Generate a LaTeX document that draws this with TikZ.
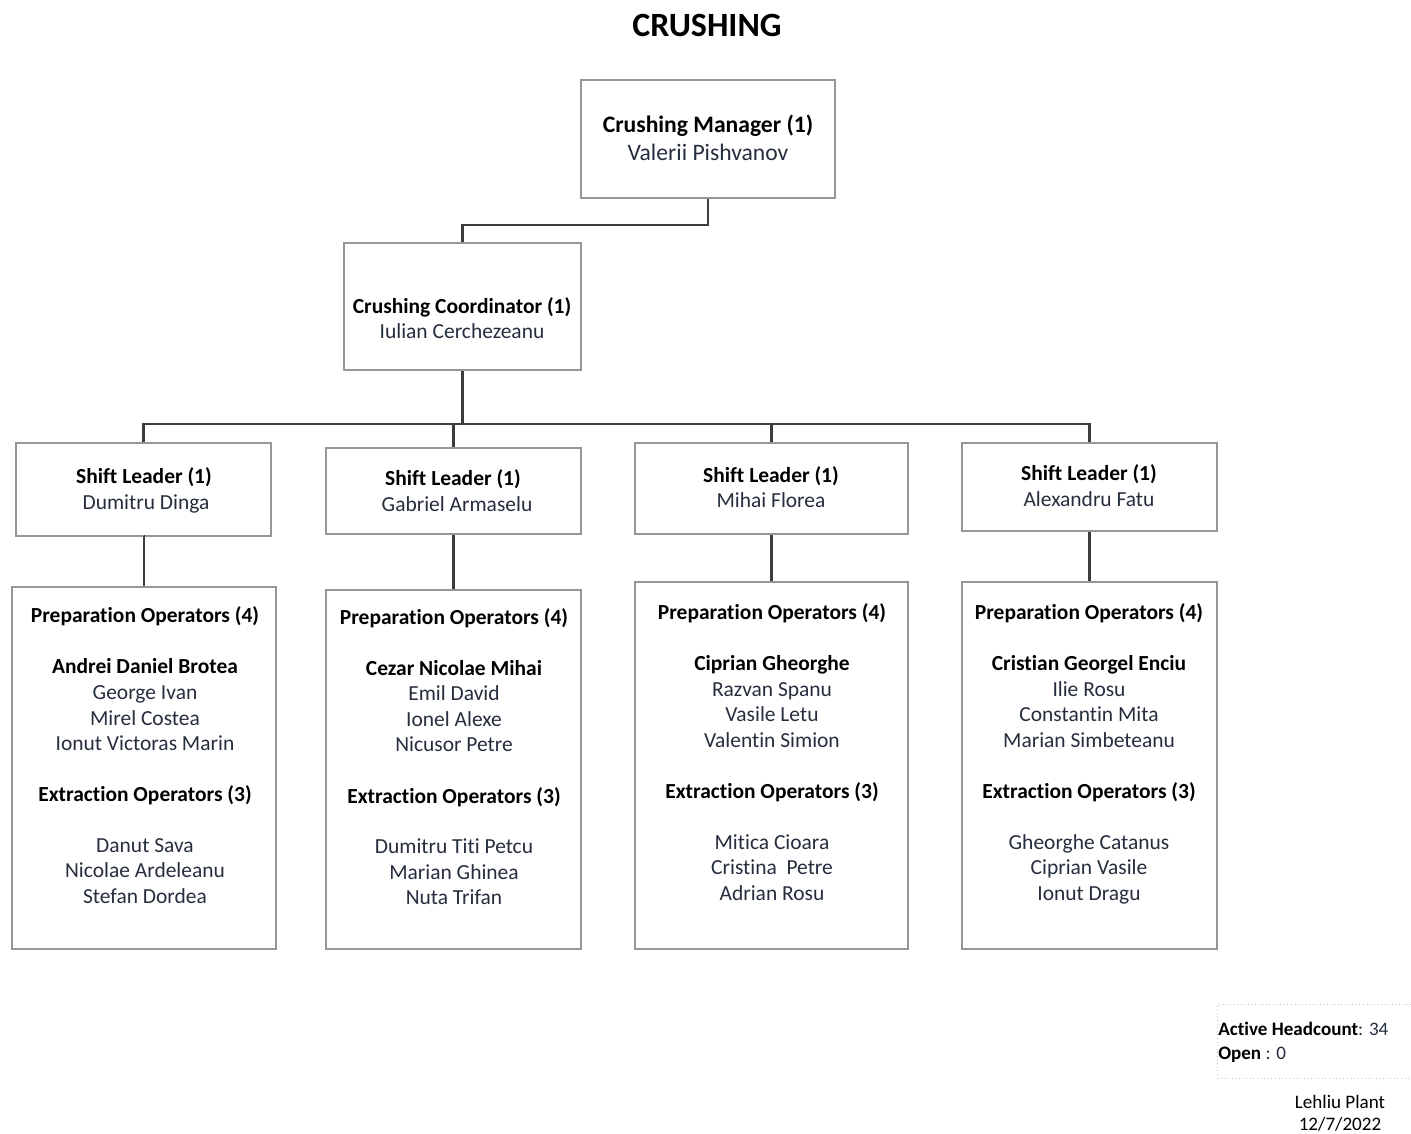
\documentclass[tikz,border=0pt]{standalone}
\usepackage{fontspec}
\setmainfont{Carlito}[Ligatures=NoCommon]
\usetikzlibrary{shadows}
\definecolor{namecol}{RGB}{38,46,62}
\definecolor{boxline}{RGB}{150,150,150}
\definecolor{wire}{RGB}{60,60,60}
\newcommand\bodysize{\fontsize{16.1}{19}\selectfont}
\newcommand\bigsize{\fontsize{17.7}{21}\selectfont}
\newcommand\smallsize{\fontsize{14.3}{17}\selectfont}
\begin{document}
\begin{tikzpicture}[x=0.75pt,y=-0.75pt,
  bx/.style 2 args={draw=boxline, line width=0.8pt, fill=white, inner sep=0pt,
     minimum width=#1*0.75pt, minimum height=#2*0.75pt,
     drop shadow={shadow xshift=1pt, shadow yshift=-1pt, opacity=0.35, fill=gray}},
  hd/.style={font=\bodysize\bfseries, text=black, anchor=base, inner sep=0pt},
  nm/.style={font=\bodysize, text=namecol, anchor=base, inner sep=0pt},
  conn/.style={draw=wire, line width=1.6pt}]
\useasboundingbox (0,0) rectangle (1411,1133);

% title
\node[font=\fontsize{25.5}{30}\selectfont\bfseries, text=black, anchor=base] (title) at (707,36) {CRUSHING};

% boxes
\node[bx={254}{118}] (mgr) at (708,139) {};
\node[bx={237}{127}] (coord) at (462.5,306.5) {};
\node[bx={255}{93}] (sl1) at (143.5,489.5) {};
\node[bx={255}{86}] (sl2) at (453.5,491) {};
\node[bx={273}{91}] (sl3) at (771.5,488.5) {};
\node[bx={255}{88}] (sl4) at (1089.5,487) {};
\node[bx={264}{362}] (op1) at (144,768) {};
\node[bx={255}{359}] (op2) at (453.5,769.5) {};
\node[bx={273}{367}] (op3) at (771.5,765.5) {};
\node[bx={255}{367}] (op4) at (1089.5,765.5) {};

% connectors
\coordinate (j1) at (0,225);
\coordinate (j2) at (0,424);
\draw[conn] (mgr.south) -- (mgr.south |- j1) -| (coord.north);
\draw[conn] (coord.south) -- (coord.south |- j2);
\draw[conn] (sl1.north) -- (sl1.north |- j2) -- (sl4.north |- j2) -- (sl4.north);
\draw[conn] (sl2.north) -- (sl2.north |- j2);
\draw[conn] (sl3.north) -- (sl3.north |- j2);
\draw[conn] (sl1.south) -- (sl1.south -| op1.north) -- (op1.north);
\draw[conn] (sl2.south) -- (op2.north);
\draw[conn] (sl3.south) -- (op3.north);
\draw[conn] (sl4.south) -- (op4.north);

% manager and coordinator
\node[hd, font=\bigsize\bfseries] (mgr-a) at (708,132) {Crushing Manager (1)};
\node[nm, font=\bigsize] (mgr-b) at (708,160) {Valerii Pishvanov};
\node[hd] (coord-a) at (462,313) {Crushing Coordinator (1)};
\node[nm] (coord-b) at (462,338) {Iulian Cerchezeanu};

% shift leaders
\node[hd] (sl1-a) at (144,483) {Shift Leader (1)};
\node[nm] (sl1-b) at (146,509) {Dumitru Dinga};
\node[hd] (sl2-a) at (453,485) {Shift Leader (1)};
\node[nm] (sl2-b) at (457,511) {Gabriel Armaselu};
\node[hd] (sl3-a) at (771,482) {Shift Leader (1)};
\node[nm] (sl3-b) at (771,507) {Mihai Florea};
\node[hd] (sl4-a) at (1089,480) {Shift Leader (1)};
\node[nm] (sl4-b) at (1089,506) {Alexandru Fatu};

% operator teams
\foreach \yy/\sty/\txt [count=\k] in {
  615/hd/Preparation Operators (4), 666/hd/Andrei Daniel Brotea, 692/nm/George Ivan,
  718/nm/Mirel Costea, 743/nm/Ionut Victoras Marin, 794/hd/Extraction Operators (3),
  845/nm/Danut Sava, 870/nm/Nicolae Ardeleanu, 896/nm/Stefan Dordea}
  \node[\sty] (op1-\k) at (145,\yy+7) {\txt};
\foreach \yy/\sty/\txt [count=\k] in {
  617/hd/Preparation Operators (4), 668/hd/Cezar Nicolae Mihai, 693/nm/Emil David,
  719/nm/Ionel Alexe, 744/nm/Nicusor Petre, 796/hd/Extraction Operators (3),
  846/nm/Dumitru Titi Petcu, 872/nm/Marian Ghinea, 897/nm/Nuta Trifan}
  \node[\sty] (op2-\k) at (454,\yy+7) {\txt};
\foreach \yy/\sty/\txt [count=\k] in {
  612/hd/Preparation Operators (4), 663/hd/Ciprian Gheorghe, 689/nm/Razvan Spanu,
  714/nm/Vasile Letu, 740/nm/Valentin Simion, 791/hd/Extraction Operators (3),
  842/nm/Mitica Cioara, 867/nm/Cristina\ \ Petre, 893/nm/Adrian Rosu}
  \node[\sty] (op3-\k) at (772,\yy+7) {\txt};
\foreach \yy/\sty/\txt [count=\k] in {
  612/hd/Preparation Operators (4), 663/hd/Cristian Georgel Enciu, 689/nm/Ilie Rosu,
  714/nm/Constantin Mita, 740/nm/Marian Simbeteanu, 791/hd/Extraction Operators (3),
  842/nm/Gheorghe Catanus, 867/nm/Ciprian Vasile, 893/nm/Ionut Dragu}
  \node[\sty] (op4-\k) at (1089,\yy+7) {\txt};

% headcount summary
\node[draw=gray!45, dotted, line width=0.7pt, minimum width=200*0.75pt, minimum height=74*0.75pt,
      anchor=north west, inner sep=0pt] (hc) at (1217,1004) {};
\node[font=\smallsize, text=namecol, anchor=base west, inner sep=0pt] (hc-a) at (1218,1035)
  {\textcolor{black}{\bfseries Active Headcount}: 34};
\node[font=\smallsize, text=namecol, anchor=base west, inner sep=0pt] (hc-b) at (1218,1059)
  {\textcolor{black}{\bfseries Open} : 0};
\node[font=\smallsize, text=black, anchor=base, inner sep=0pt] (plant) at (1340,1108) {Lehliu Plant};
\node[font=\smallsize, text=black, anchor=base, inner sep=0pt] (date) at (1340,1130) {12/7/2022};
\end{tikzpicture}
\end{document}
